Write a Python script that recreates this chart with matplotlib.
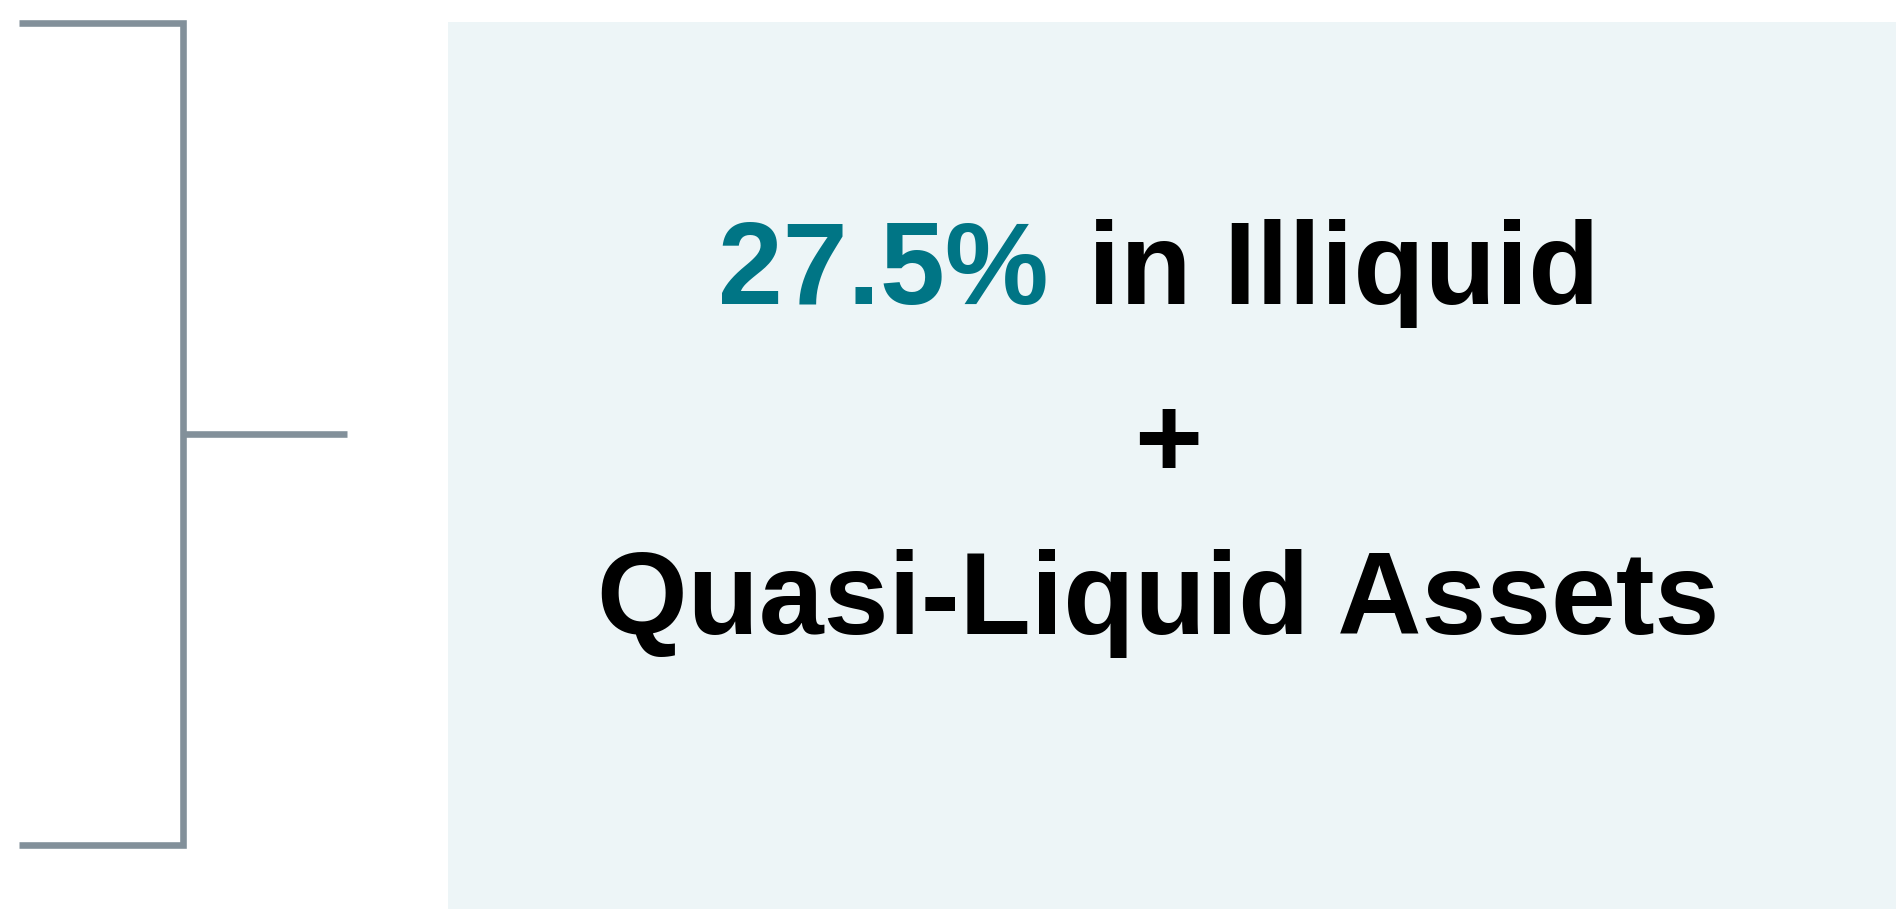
import matplotlib.pyplot as plt
from matplotlib.lines import Line2D
from matplotlib.patches import Rectangle

# text content of the callout
highlight = "27.5%"
line1_rest = "in Illiquid"
line2 = "+"
line3 = "Quasi-Liquid Assets"

teal = "#007585"
grey = "#82909a"
box_bg = "#edf5f7"

W, H = 1896, 909
fig = plt.figure(figsize=(W / 100, H / 100), dpi=100)
ax = fig.add_axes([0, 0, 1, 1])
ax.set_xlim(0, W)
ax.set_ylim(H, 0)
ax.axis("off")

# bracket on the left
lw = 6.6 * 72 / 100
ax.add_line(Line2D([19, 183.5, 183.5, 19], [22.5, 22.5, 845, 845],
                   color=grey, lw=lw, solid_joinstyle="miter", solid_capstyle="butt"))
ax.add_line(Line2D([183.5, 347], [434, 434], color=grey, lw=lw, solid_capstyle="butt"))

# shaded box
ax.add_patch(Rectangle((448, 22), W - 448, H - 22, facecolor=box_bg, edgecolor="none"))

font = dict(family="Liberation Sans", fontweight="bold", fontsize=84)
cx = 1158

# first line: teal figure, then black words
ax.text(883, 304, highlight, color=teal, ha="center", va="baseline", **font)
ax.text(1344, 304, line1_rest, color="black", ha="center", va="baseline", **font)

ax.text(cx + 10, 477, line2, color="black", ha="center", va="baseline", **font)
ax.text(cx, 634, line3, color="black", ha="center", va="baseline", **font)

fig.savefig("out.png", dpi=100)
